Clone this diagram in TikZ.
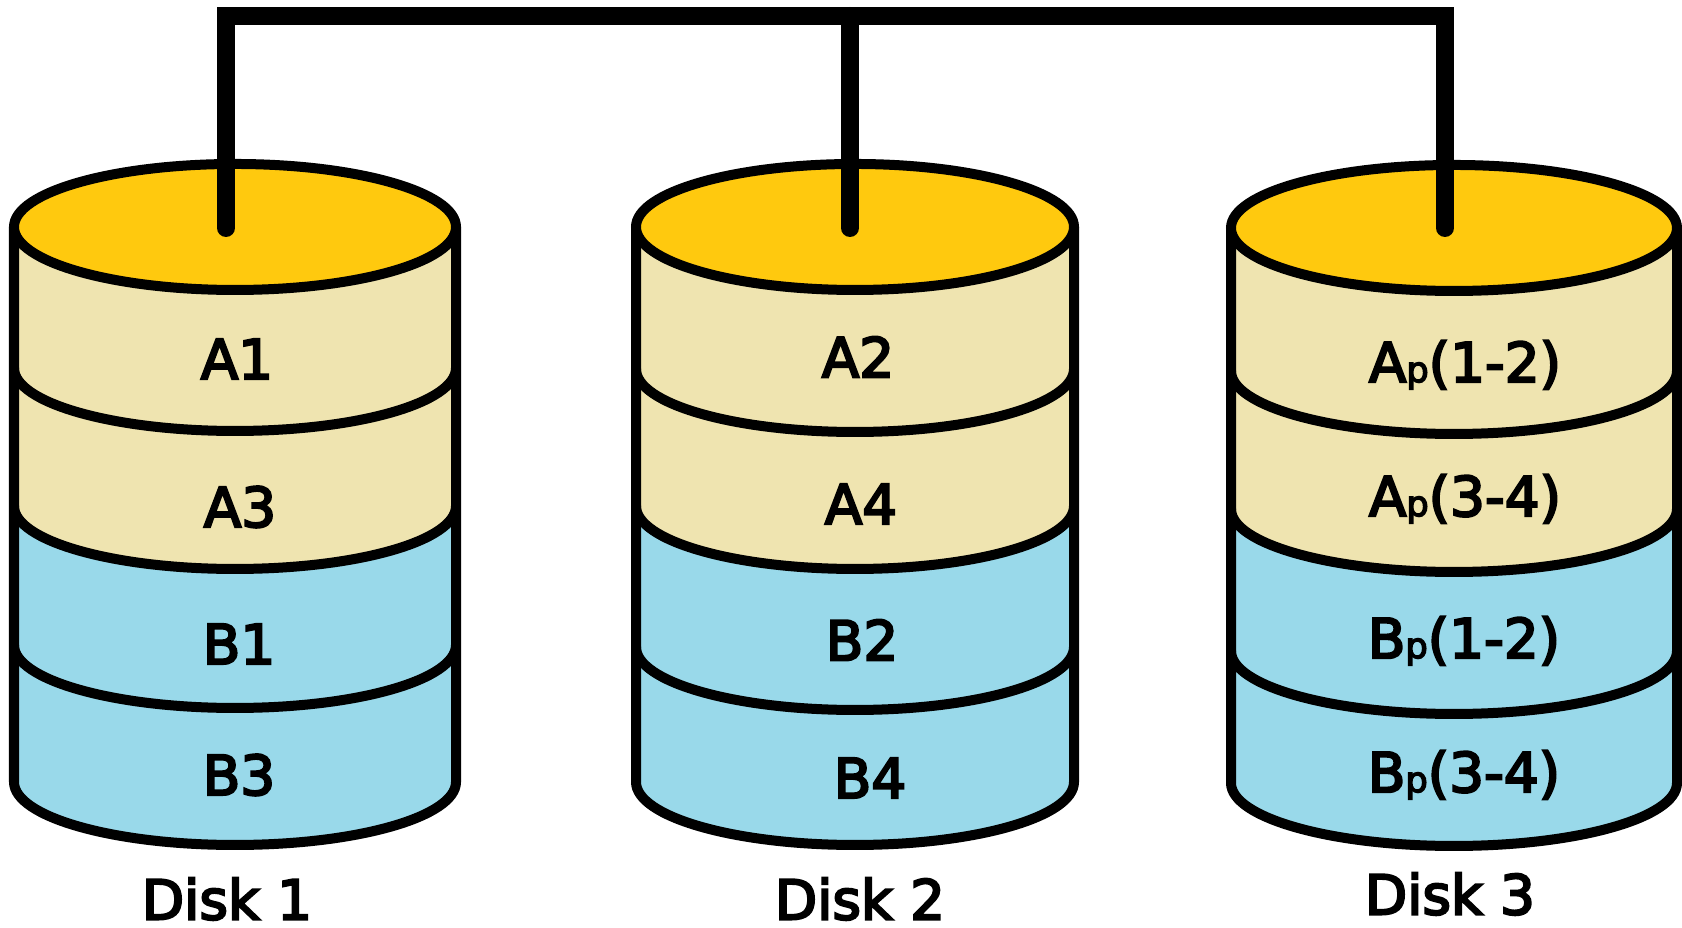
\documentclass[tikz,border=0pt]{standalone}
\usepackage{fontspec}
\setmainfont{DejaVu Sans}[FakeBold=4]
\definecolor{topyellow}{HTML}{FFC90E}
\definecolor{sandfill}{HTML}{EFE4B0}
\definecolor{skyfill}{HTML}{99D9EA}
\tikzset{
	disk line/.style={black, line width=0.1cm},
	bus line/.style={black, line width=0.18cm, line cap=round, miter limit=10},
	lbl/.style={font=\fontsize{15.6}{18}\selectfont, inner sep=0pt},
}
\newcommand{\sm}[1]{{\fontsize{10}{12}\selectfont #1}}
\begin{document}
\begin{tikzpicture}
	\useasboundingbox (0,0) rectangle (16.82,9.28);

	% Disk 1
	\fill[skyfill] (0.14,7.01) -- (0.14,1.46) arc[start angle=180, end angle=360, x radius=2.21, y radius=0.63] -- (4.56,7.01) -- cycle;
	\fill[sandfill] (0.14,7.01) -- (0.14,4.22) arc[start angle=180, end angle=360, x radius=2.21, y radius=0.63] -- (4.56,7.01) -- cycle;
	\draw[disk line] (0.14,5.60) arc[start angle=180, end angle=360, x radius=2.21, y radius=0.63];
	\draw[disk line] (0.14,4.22) arc[start angle=180, end angle=360, x radius=2.21, y radius=0.63];
	\draw[disk line] (0.14,2.83) arc[start angle=180, end angle=360, x radius=2.21, y radius=0.63];
	\draw[disk line] (0.14,7.01) -- (0.14,1.46) arc[start angle=180, end angle=360, x radius=2.21, y radius=0.63] -- (4.56,7.01);
	\draw[disk line, fill=topyellow] (2.35,7.01) ellipse (2.21 and 0.63);

	% Disk 2
	\fill[skyfill] (6.36,7.01) -- (6.36,1.46) arc[start angle=180, end angle=360, x radius=2.19, y radius=0.63] -- (10.74,7.01) -- cycle;
	\fill[sandfill] (6.36,7.01) -- (6.36,4.22) arc[start angle=180, end angle=360, x radius=2.19, y radius=0.63] -- (10.74,7.01) -- cycle;
	\draw[disk line] (6.36,5.59) arc[start angle=180, end angle=360, x radius=2.19, y radius=0.63];
	\draw[disk line] (6.36,4.22) arc[start angle=180, end angle=360, x radius=2.19, y radius=0.63];
	\draw[disk line] (6.36,2.81) arc[start angle=180, end angle=360, x radius=2.19, y radius=0.63];
	\draw[disk line] (6.36,7.01) -- (6.36,1.46) arc[start angle=180, end angle=360, x radius=2.19, y radius=0.63] -- (10.74,7.01);
	\draw[disk line, fill=topyellow] (8.55,7.01) ellipse (2.19 and 0.63);

	% Disk 3
	\fill[skyfill] (12.31,7.00) -- (12.31,1.45) arc[start angle=180, end angle=360, x radius=2.23, y radius=0.63] -- (16.77,7.00) -- cycle;
	\fill[sandfill] (12.31,7.00) -- (12.31,4.19) arc[start angle=180, end angle=360, x radius=2.23, y radius=0.63] -- (16.77,7.00) -- cycle;
	\draw[disk line] (12.31,5.57) arc[start angle=180, end angle=360, x radius=2.23, y radius=0.63];
	\draw[disk line] (12.31,4.19) arc[start angle=180, end angle=360, x radius=2.23, y radius=0.63];
	\draw[disk line] (12.31,2.77) arc[start angle=180, end angle=360, x radius=2.23, y radius=0.63];
	\draw[disk line] (12.31,7.00) -- (12.31,1.45) arc[start angle=180, end angle=360, x radius=2.23, y radius=0.63] -- (16.77,7.00);
	\draw[disk line, fill=topyellow] (14.54,7.00) ellipse (2.23 and 0.63);

	% bus
	\coordinate (tap1) at (2.26,7.0);
	\coordinate (tap2) at (8.50,7.0);
	\coordinate (tap3) at (14.45,7.0);
	\coordinate (corner3) at (14.45,9.12);
	\coordinate (join2) at (8.50,9.12);
	\draw[bus line] (tap1) |- (corner3) -- (tap3);
	\draw[bus line] (join2) -- (tap2);

	% labels
	\node[lbl] (a1) at (2.37,5.69) {A1};
	\node[lbl] (a3) at (2.40,4.21) {A3};
	\node[lbl] (b1) at (2.39,2.84) {B1};
	\node[lbl] (b3) at (2.39,1.53) {B3};
	\node[lbl] (disk1) at (2.27,0.29) {Disk 1};

	\node[lbl] (a2) at (8.58,5.71) {A2};
	\node[lbl] (a4) at (8.61,4.24) {A4};
	\node[lbl] (b2) at (8.62,2.88) {B2};
	\node[lbl] (b4) at (8.70,1.50) {B4};
	\node[lbl] (disk2) at (8.60,0.29) {Disk 2};

	\node[lbl] (ap12) at (14.65,5.63) {A\sm{p}(1-2)};
	\node[lbl] (ap34) at (14.65,4.29) {A\sm{p}(3-4)};
	\node[lbl] (bp12) at (14.64,2.87) {B\sm{p}(1-2)};
	\node[lbl] (bp34) at (14.64,1.53) {B\sm{p}(3-4)};
	\node[lbl] (disk3) at (14.50,0.34) {Disk 3};
\end{tikzpicture}
\end{document}
